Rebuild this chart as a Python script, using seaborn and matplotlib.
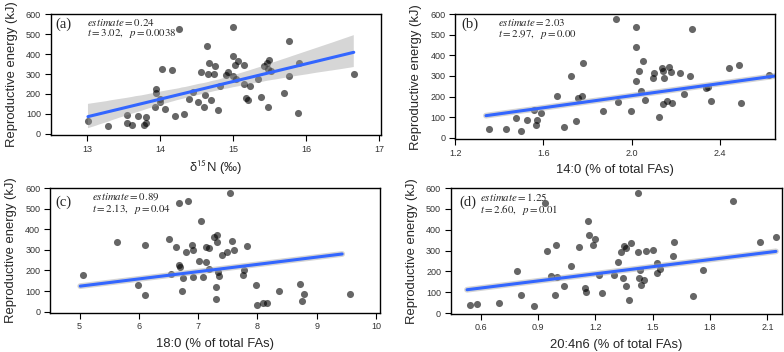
import matplotlib
matplotlib.use("Agg")
import matplotlib.pyplot as plt
import seaborn as sns
import pandas as pd
from matplotlib.collections import PolyCollection

# panel (a): d15N vs reproductive energy
d15n = [13.01, 13.28, 13.54, 13.55, 13.61, 13.70, 13.78, 13.80, 13.81, 13.94,
        13.94, 13.93, 13.99, 14.00, 14.02, 14.06, 14.16, 14.20, 14.25, 14.32,
        14.39, 14.45, 14.52, 14.56, 14.60, 14.61, 14.64, 14.65, 14.67, 14.69,
        14.73, 14.75, 14.79, 14.82, 14.90, 14.93, 14.99, 14.99, 14.99, 15.03,
        15.04, 15.06, 15.14, 15.15, 15.17, 15.20, 15.23, 15.34, 15.38, 15.42,
        15.46, 15.48, 15.49, 15.47, 15.51, 15.70, 15.76, 15.76, 15.88, 15.90,
        16.65]
energy_a = [65, 37, 52, 94, 43, 89, 43, 53, 84, 224,
            204, 134, 174, 162, 326, 125, 318, 89, 528, 100,
            177, 212, 160, 312, 132, 196, 441, 301, 353, 169,
            301, 339, 119, 241, 296, 312, 536, 388, 291, 344,
            274, 364, 344, 249, 182, 170, 242, 277, 184, 339,
            354, 324, 371, 135, 316, 206, 465, 292, 104, 354,
            299]

# panel (b): 14:0
fa14 = [1.355, 1.429, 1.474, 1.499, 1.524, 1.565, 1.569, 1.555, 1.589, 1.663,
        1.693, 1.726, 1.747, 1.756, 1.774, 1.781, 1.871, 1.929, 1.940, 1.999,
        2.018, 2.022, 2.018, 2.033, 2.043, 2.051, 2.060, 2.096, 2.103, 2.125,
        2.136, 2.143, 2.143, 2.148, 2.163, 2.170, 2.179, 2.185, 2.218, 2.240,
        2.263, 2.275, 2.336, 2.345, 2.360, 2.441, 2.486, 2.499, 2.625]
energy_b = [41, 42, 97, 32, 86, 62, 88, 135, 118, 203,
            50, 300, 81, 195, 204, 365, 131, 577, 174, 131,
            441, 537, 276, 326, 227, 373, 182, 292, 313, 102,
            339, 324, 162, 292, 178, 344, 319, 169, 316, 214,
            298, 527, 240, 245, 177, 339, 354, 169, 306]

# panel (c): 18:0
fa18 = [5.05, 5.63, 5.99, 6.11, 6.11, 6.50, 6.54, 6.63, 6.67, 6.67,
        6.70, 6.72, 6.74, 6.79, 6.83, 6.89, 6.91, 6.92, 7.01, 7.05,
        7.08, 7.14, 7.14, 7.18, 7.18, 7.26, 7.31, 7.31, 7.33, 7.30,
        7.30, 7.35, 7.41, 7.48, 7.54, 7.57, 7.60, 7.76, 7.77, 7.82,
        7.97, 8.00, 8.09, 8.16, 8.36, 8.72, 8.75, 8.78, 9.57]
energy_c = [178, 340, 131, 325, 81, 352, 184, 312, 527, 225,
            215, 102, 162, 291, 537, 325, 299, 168, 246, 440,
            168, 315, 239, 307, 207, 364, 370, 338, 192, 118,
            63, 173, 275, 289, 577, 343, 299, 176, 200, 318,
            131, 34, 40, 42, 99, 134, 50, 87, 87]

# panel (d): 20:4n6
fa204 = [0.541, 0.581, 0.696, 0.790, 0.813, 0.876, 0.937, 0.947, 0.968, 0.991,
         0.994, 0.998, 1.038, 1.073, 1.116, 1.144, 1.149, 1.160, 1.169, 1.190,
         1.198, 1.221, 1.235, 1.298, 1.320, 1.333, 1.347, 1.350, 1.362, 1.360,
         1.378, 1.388, 1.425, 1.425, 1.429, 1.434, 1.439, 1.453, 1.465, 1.502,
         1.524, 1.524, 1.538, 1.608, 1.612, 1.713, 1.762, 1.920, 2.063, 2.144]
energy_d = [40, 42, 50, 202, 86, 32, 528, 299, 178, 86,
            326, 174, 131, 226, 315, 118, 101, 442, 373, 325,
            354, 181, 98, 181, 246, 291, 166, 320, 314, 131,
            62, 336, 578, 291, 166, 205, 134, 157, 298, 304,
            238, 192, 211, 275, 339, 80, 208, 536, 341, 363]

# fitted model lines for (b)-(d), end points
fit_x_b = [1.339, 2.651]
fit_y_b = [107, 300]
fit_x_c = [5.01, 9.43]
fit_y_c = [124, 280]
fit_x_d = [0.528, 2.145]
fit_y_d = [112, 296]

panel_tags = ["(a)", "(b)", "(c)", "(d)"]
estimates = ["0.24", "2.03", "0.89", "1.25"]
t_vals = ["3.02", "2.97", "2.13", "2.60"]
p_vals = ["0.0038", "0.00", "0.04", "0.01"]
xlabels = [r"δ$^{\mathsf{15}}$N (‰)", "14:0 (% of total FAs)",
           "18:0 (% of total FAs)", "20:4n6 (% of total FAs)"]

sns.set_style("ticks")
plt.rcParams["font.family"] = ["Liberation Sans", "DejaVu Sans"]
plt.rcParams["mathtext.fontset"] = "stix"

fig = plt.figure(figsize=(7.84, 3.52), dpi=100)
axes = [fig.add_axes([0.0647, 0.6165, 0.421, 0.343]),
        fig.add_axes([0.5808, 0.6043, 0.4074, 0.355]),
        fig.add_axes([0.0638, 0.1117, 0.421, 0.354]),
        fig.add_axes([0.5750, 0.1088, 0.422, 0.357])]

data = [(d15n, energy_a), (fa14, energy_b), (fa18, energy_c), (fa204, energy_d)]
fits = [None, (fit_x_b, fit_y_b), (fit_x_c, fit_y_c), (fit_x_d, fit_y_d)]
xlims = [(12.5, 17.02), (1.22, 2.65), (4.5, 10.07), (0.443, 2.175)]
ylims = [(-6, 600), (-8, 600), (-5, 600), (-3, 600)]
xticks = [[13, 14, 15, 16, 17], [1.2, 1.6, 2.0, 2.4],
          [5, 6, 7, 8, 9, 10], [0.6, 0.9, 1.2, 1.5, 1.8, 2.1]]
xticklabels = [["13", "14", "15", "16", "17"], ["1.2", "1.6", "2.0", "2.4"],
               ["5", "6", "7", "8", "9", "10"],
               ["0.6", "0.9", "1.2", "1.5", "1.8", "2.1"]]
xlabelpads = [4, 4, 4.5, 4.5]
tag_pos = [(0.013, 0.915), (0.019, 0.92), (0.015, 0.89), (0.026, 0.885)]
txt_pos = [(0.11, 0.883), (0.134, 0.883), (0.128, 0.871), (0.087, 0.874)]

for i, ax in enumerate(axes):
    x, y = data[i]
    df = pd.DataFrame({"x": x, "y": y})
    scat = {"s": 26, "color": "black", "alpha": 0.6, "linewidths": 0}
    if fits[i] is None:
        sns.regplot(data=df, x="x", y="y", ax=ax, ci=95, scatter_kws=scat,
                    line_kws={"color": "#3366FF", "lw": 2.2})
        for coll in ax.collections:
            if isinstance(coll, PolyCollection):
                coll.set_facecolor("#999999")
                coll.set_alpha(0.4)
                coll.set_edgecolor("none")
    else:
        sns.scatterplot(data=df, x="x", y="y", ax=ax, **scat)
        fx, fy = fits[i]
        sns.lineplot(x=fx, y=fy, ax=ax, color="#aaaaaa", lw=4.2, alpha=0.5)
        sns.lineplot(x=fx, y=fy, ax=ax, color="#3366FF", lw=2.2)
    ax.set_xlim(*xlims[i])
    ax.set_ylim(*ylims[i])
    ax.set_xticks(xticks[i])
    ax.set_xticklabels(xticklabels[i])
    ax.set_yticks([0, 100, 200, 300, 400, 500, 600])
    ax.tick_params(labelsize=6.5, colors="black", labelcolor="#333333",
                   length=4, width=0.8, pad=3)
    for s in ax.spines.values():
        s.set_visible(True)
        s.set_linewidth(1.0)
        s.set_color("black")
    ax.set_xlabel(xlabels[i], fontsize=9.4, labelpad=xlabelpads[i])
    ax.set_ylabel("Reproductive energy (kJ)", fontsize=9.4, labelpad=6)
    ax.text(tag_pos[i][0], tag_pos[i][1], panel_tags[i], transform=ax.transAxes,
            family="Liberation Serif", fontsize=10.5, va="center", ha="left")
    tx, ty = txt_pos[i]
    ax.text(tx, ty, r"$\mathit{estimate} = " + estimates[i] + "$\n"
            + r"$t = " + t_vals[i] + r",\ \ p = " + p_vals[i] + "$",
            transform=ax.transAxes, fontsize=7.8, va="center", ha="left",
            linespacing=0.95)

fig.savefig("out.png", dpi=100)
